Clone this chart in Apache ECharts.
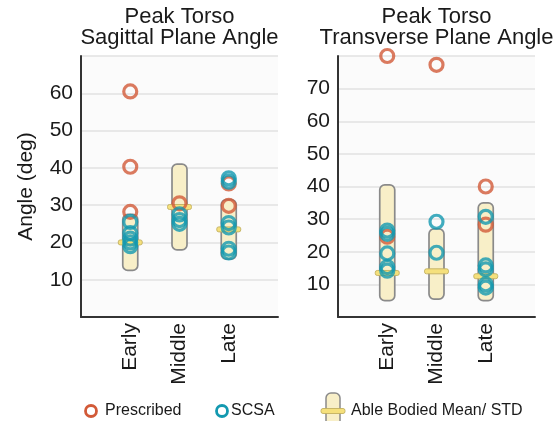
<!DOCTYPE html>
<html>
<head>
<meta charset="utf-8">
<script src="https://cdn.jsdelivr.net/npm/echarts@6/dist/echarts.min.js"></script>
<style>
  html, body { margin: 0; padding: 0; background: #ffffff; }
  #chart { width: 560px; height: 421px; }
</style>
</head>
<body>
<div id="chart"></div>
<script>
// Phases of the movement (x positions 1..3)
const phases = ['Early', 'Middle', 'Late'];

// Sagittal plane peak torso angle (deg), one list per phase
const sagittalPrescribed = [[60.5, 40.3, 28.2], [30.5], [35.8, 29.8]];
const sagittalSCSA = [[25.5, 22.5, 21.0, 20.0, 19.0], [27.5, 26.0, 25.0], [37.2, 36.3, 25.2, 24.0, 18.3, 17.3]];
const sagittalMean = [20.0, 29.5, 23.5];
const sagittalLow = [12.5, 18.0, 15.5];
const sagittalHigh = [27.5, 41.0, 31.5];

// Transverse plane peak torso angle (deg)
const transversePrescribed = [[80.0, 24.6], [77.3], [40.0, 28.3]];
const transverseSCSA = [[26.5, 25.5, 19.5, 15.3, 14.2], [29.2, 19.7], [30.7, 15.8, 14.6, 10.0, 9.0]];
const transverseMean = [13.5, 14.0, 12.5];
const transverseLow = [5.0, 5.5, 5.0];
const transverseHigh = [40.5, 27.0, 35.0];

// Axis ranges
const sagittalMax = 70;
const transverseMax = 80;

const FONT = '"Liberation Sans", Arial, Helvetica, sans-serif';
const TEXT = '#1a1a1a';
const ORANGE = '#d25a38';
const TEAL = '#1399b0';
const CREAM = '#f8efc8';
const MEAN_YELLOW = '#f5e07c';

function points(groups) {
  const out = [];
  groups.forEach((vals, i) => vals.forEach(v => out.push([i + 1, v])));
  return out;
}
function bands(low, high, mean) {
  return mean.map((m, i) => [i + 1, low[i], high[i], m]);
}

function renderBand(params, api) {
  const x = api.value(0);
  const top = api.coord([x, api.value(2)]);
  const bot = api.coord([x, api.value(1)]);
  const mid = api.coord([x, api.value(3)]);
  const bw = 15, mw = 24, mh = 5;
  return {
    type: 'group',
    children: [
      { type: 'rect',
        shape: { x: top[0] - bw / 2, y: top[1], width: bw, height: bot[1] - top[1], r: 5 },
        style: { fill: CREAM, stroke: '#8a8a8a', lineWidth: 1.7 } },
      { type: 'rect',
        shape: { x: mid[0] - mw / 2, y: mid[1] - mh / 2, width: mw, height: mh, r: 2 },
        style: { fill: MEAN_YELLOW, stroke: '#c2b060', lineWidth: 0.9 } }
    ]
  };
}

function xAxisFor(gridIndex) {
  return {
    type: 'value', gridIndex, min: 0, max: 4, interval: 1,
    axisLine: { show: true, onZero: false, lineStyle: { color: '#333', width: 2 } },
    axisTick: { show: false },
    splitLine: { show: false },
    axisLabel: {
      rotate: 90, margin: 6, fontSize: 21, fontFamily: FONT, color: TEXT,
      formatter: v => phases[v - 1] || ''
    }
  };
}
function yAxisFor(gridIndex, max, extra) {
  return Object.assign({
    type: 'value', gridIndex, min: 0, max, interval: 10,
    axisLine: { show: true, lineStyle: { color: '#333', width: 2 } },
    axisTick: { show: false },
    splitLine: { show: true, lineStyle: { color: '#e2e2e2', width: 1.5 } },
    axisLabel: {
      margin: 8, fontSize: 21, fontFamily: FONT, color: TEXT,
      formatter: v => (v === 0 || v === max) ? '' : String(v)
    }
  }, extra || {});
}
function ringStyle(color) {
  return { color: 'rgba(255,255,255,0)', borderColor: color, borderWidth: 3.2 };
}

const chart = echarts.init(document.getElementById('chart'), null, { renderer: 'canvas' });

chart.setOption({
  animation: false,
  backgroundColor: '#ffffff',
  title: [
    { text: 'Peak Torso\nSagittal Plane Angle', left: 179.5, top: 6, textAlign: 'center', padding: 0,
      textStyle: { fontSize: 22, fontWeight: 'normal', lineHeight: 21, fontFamily: FONT, color: TEXT } },
    { text: 'Peak Torso\nTransverse Plane Angle', left: 436.5, top: 6, textAlign: 'center', padding: 0,
      textStyle: { fontSize: 22, fontWeight: 'normal', lineHeight: 21, fontFamily: FONT, color: TEXT } }
  ],
  grid: [
    { left: 81, right: 282, top: 56, bottom: 104, show: true, backgroundColor: '#fbfbfb', borderWidth: 0 },
    { left: 338, right: 25, top: 56, bottom: 104, show: true, backgroundColor: '#fbfbfb', borderWidth: 0 }
  ],
  xAxis: [xAxisFor(0), xAxisFor(1)],
  yAxis: [
    yAxisFor(0, sagittalMax, {
      name: 'Angle (deg)', nameLocation: 'middle', nameGap: 44,
      nameTextStyle: { fontSize: 21, fontFamily: FONT, color: TEXT }
    }),
    yAxisFor(1, transverseMax)
  ],
  series: [
    { type: 'custom', name: 'Able Bodied Mean/ STD', xAxisIndex: 0, yAxisIndex: 0,
      data: bands(sagittalLow, sagittalHigh, sagittalMean), encode: { x: 0, y: [1, 2, 3] },
      renderItem: renderBand, z: 1 },
    { type: 'custom', name: 'Able Bodied Mean/ STD', xAxisIndex: 1, yAxisIndex: 1,
      data: bands(transverseLow, transverseHigh, transverseMean), encode: { x: 0, y: [1, 2, 3] },
      renderItem: renderBand, z: 1 },
    { type: 'scatter', name: 'Prescribed', xAxisIndex: 0, yAxisIndex: 0, symbol: 'circle', symbolSize: 13,
      data: points(sagittalPrescribed), itemStyle: ringStyle(ORANGE), z: 3 },
    { type: 'scatter', name: 'SCSA', xAxisIndex: 0, yAxisIndex: 0, symbol: 'circle', symbolSize: 13,
      data: points(sagittalSCSA), itemStyle: ringStyle(TEAL), z: 4 },
    { type: 'scatter', name: 'Prescribed', xAxisIndex: 1, yAxisIndex: 1, symbol: 'circle', symbolSize: 13,
      data: points(transversePrescribed), itemStyle: ringStyle(ORANGE), z: 3 },
    { type: 'scatter', name: 'SCSA', xAxisIndex: 1, yAxisIndex: 1, symbol: 'circle', symbolSize: 13,
      data: points(transverseSCSA), itemStyle: ringStyle(TEAL), z: 4 }
  ],
  graphic: [
    // legend row
    { type: 'circle', shape: { cx: 91, cy: 411, r: 5.5 }, style: { fill: '#fff', stroke: ORANGE, lineWidth: 2.8 } },
    { type: 'text', x: 105, y: 411, style: { text: 'Prescribed', fontSize: 16, fontFamily: FONT, fill: TEXT, verticalAlign: 'middle' } },
    { type: 'circle', shape: { cx: 222, cy: 411, r: 5.5 }, style: { fill: '#fff', stroke: TEAL, lineWidth: 2.8 } },
    { type: 'text', x: 231, y: 411, style: { text: 'SCSA', fontSize: 16, fontFamily: FONT, fill: TEXT, verticalAlign: 'middle' } },
    { type: 'rect', shape: { x: 326, y: 393, width: 14, height: 36, r: 5 }, style: { fill: CREAM, stroke: '#8a8a8a', lineWidth: 1.5 } },
    { type: 'rect', shape: { x: 321, y: 408.5, width: 24, height: 5, r: 2 }, style: { fill: MEAN_YELLOW, stroke: '#c2b060', lineWidth: 0.9 } },
    { type: 'text', x: 351, y: 411, style: { text: 'Able Bodied Mean/ STD', fontSize: 16, fontFamily: FONT, fill: TEXT, verticalAlign: 'middle' } }
  ]
});
</script>
</body>
</html>
